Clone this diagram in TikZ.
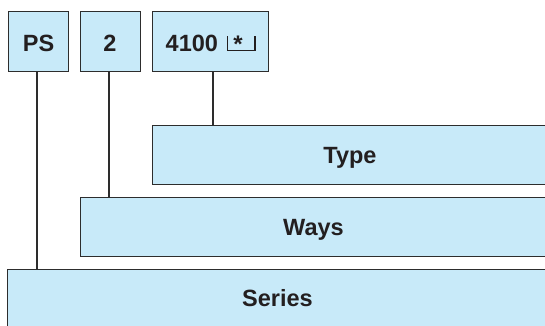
\documentclass[tikz,border=0pt]{standalone}
\usepackage{fontspec}
\setmainfont{Liberation Sans}
\definecolor{boxfill}{RGB}{200,234,249}
\definecolor{boxline}{RGB}{45,45,45}
\definecolor{txt}{RGB}{35,31,32}
\begin{document}
\begin{tikzpicture}[x=1pt,y=-1pt,
  box/.style={draw=boxline,fill=boxfill,line width=1.1pt,inner sep=0pt,anchor=north west},
  lbl/.style={font=\fontsize{23.5}{26}\selectfont\bfseries,text=txt,inner sep=0pt},
  conn/.style={draw=boxline,line width=1.1pt}]
\useasboundingbox (0,0) rectangle (545,325);
\clip (0,0) rectangle (545,325);
% top boxes
\node[box,minimum width=60pt,minimum height=60pt] (ps) at (8,11) {};
\node[box,minimum width=60pt,minimum height=60pt] (two) at (80,11) {};
\node[box,minimum width=116pt,minimum height=60pt] (code) at (152,11) {};
% wide boxes
\node[box,minimum width=396pt,minimum height=59pt] (type) at (152,125) {};
\node[box,minimum width=468pt,minimum height=59pt] (ways) at (80,197) {};
\node[box,minimum width=541pt,minimum height=62pt] (series) at (7,269) {};
% labels
\node[lbl,anchor=base] (pst) at (38.5,51) {PS};
\node[lbl,anchor=base] (twot) at (110,51) {2};
\node[lbl,anchor=base west] (codet) at (165.5,51) {4100};
\node[lbl,anchor=base] (typet) at (350,163) {Type};
\node[lbl,anchor=base] (wayst) at (313.5,235) {Ways};
\node[lbl,anchor=base] (seriest) at (277.5,306.5) {Series};
% bracket with asterisk
\draw[draw=txt,line width=1.5pt] (227.5,36) -- (227.5,50.5) -- (255,50.5) -- (255,36);
\node[font=\fontsize{24}{26}\selectfont\bfseries,text=txt,inner sep=0pt,anchor=base] (star) at (238,52) {*};
% connectors
\coordinate (psb) at (37,71);
\coordinate (twob) at (109,71);
\coordinate (codeb) at (213,71);
\draw[conn] (psb) -- (psb |- series.north);
\draw[conn] (twob) -- (twob |- ways.north);
\draw[conn] (codeb) -- (codeb |- type.north);
\end{tikzpicture}
\end{document}
